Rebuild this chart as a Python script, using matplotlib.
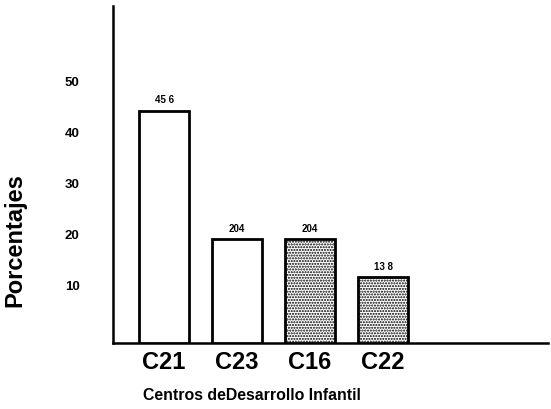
import matplotlib
matplotlib.use("Agg")
import matplotlib.pyplot as plt
import matplotlib.transforms as mtransforms

categories = ["C21", "C23", "C16", "C22"]
values = [45.6, 20.4, 20.4, 12.9]
value_labels = ["45 6", "204", "204", "13 8"]
hatched = [False, False, True, True]
yticks = [10, 20, 30, 40, 50]
ylabel = "Porcentajes"
xlabel = "Centros deDesarrollo Infantil"

plt.rcParams['font.family'] = ['Liberation Sans', 'DejaVu Sans']
plt.rcParams['hatch.linewidth'] = 1.0

W, H = 551, 409
fig = plt.figure(figsize=(W / 100, H / 100), dpi=100)
ax = fig.add_axes([113 / W, 1 - 343 / H, (548 - 113) / W, (343 - 6) / H])

x = list(range(len(categories)))
for xi, v, h in zip(x, values, hatched):
    ax.bar(xi, v, width=0.685, facecolor='white', edgecolor='black',
           linewidth=2.0, hatch='......' if h else None, zorder=3)

for xi, v, lab in zip(x, values, value_labels):
    ax.annotate(lab, (xi, v), xytext=(0, 4), textcoords='offset points',
                ha='center', va='bottom', fontsize=7, fontweight='bold')

ax.set_xlim(-0.7, -0.7 + 435 / 73)
ax.set_ylim(0, 66.2)

for s in ['top', 'right']:
    ax.spines[s].set_visible(False)
for s in ['left', 'bottom']:
    ax.spines[s].set_linewidth(1.8)

ax.set_yticks(yticks)
ax.set_yticklabels([str(t) for t in yticks], fontsize=9.5, fontweight='bold')
ax.tick_params(axis='y', length=0, pad=24)
offset = mtransforms.ScaledTranslation(0, 7 / 100, fig.dpi_scale_trans)
for lbl in ax.get_yticklabels():
    lbl.set_transform(lbl.get_transform() + offset)

ax.set_xticks(x)
ax.set_xticklabels(categories, fontsize=17, fontweight='bold')
ax.tick_params(axis='x', length=0, pad=6)

fig.text(15 / W, 1 - 240 / H, ylabel, rotation=90, fontsize=17,
         fontweight='bold', ha='center', va='center')
fig.text(143 / W, 1 - 395 / H, xlabel, fontsize=11.4, fontweight='bold',
         ha='left', va='center')

fig.savefig("out.png", dpi=100)
